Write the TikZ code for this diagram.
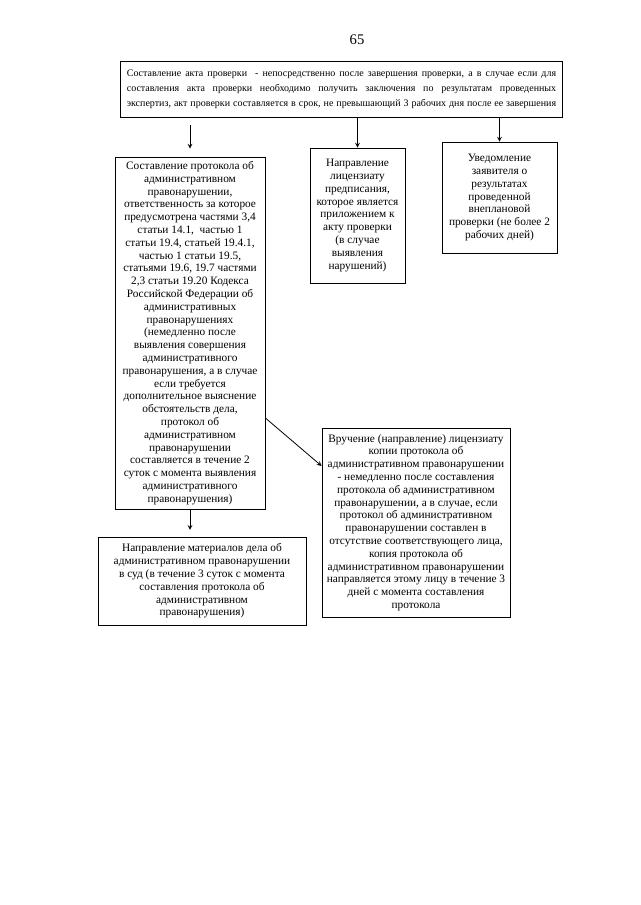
\documentclass[tikz,border=0pt]{standalone}
\usepackage{fontspec}
\setmainfont{Liberation Serif}
\begin{document}
\begin{tikzpicture}[x=0.75pt, y=-0.75pt, >=stealth, line width=0.6pt,
		box/.style={draw, align=center, inner sep=2pt, font=\fontsize{8.5}{9.6}\selectfont}]
	\useasboundingbox (0,0) rectangle (640,905);
	\node[font=\fontsize{11}{13}\selectfont] (num) at (357,40) {65};
	\node[box, align=justify, text width=322pt, minimum width=331pt, minimum height=42pt, font=\fontsize{7.5}{11.2}\selectfont] (top) at (341.5,89)
		{Составление акта проверки \ - непосредственно после завершения проверки, а в случае если для\linebreak
		 составления акта проверки необходимо получить заключения по результатам проведенных\linebreak
		 \makebox[\linewidth][s]{экспертиз, акт проверки составляется в срок, не превышающий 3 рабочих дня после ее завершения}};
	\node[box, minimum width=112.5pt, minimum height=264pt] (b4) at (190,333)
		{Составление протокола об\\административном\\правонарушении,\\ответственность за которое\\предусмотрена частями 3,4\\
		 статьи 14.1, \ частью 1\\статьи 19.4, статьей 19.4.1,\\частью 1 статьи 19.5,\\статьями 19.6, 19.7 частями\\
		 2,3 статьи 19.20 Кодекса\\Российской Федерации об\\административных\\правонарушениях\\(немедленно после\\
		 выявления совершения\\административного\\правонарушения, а в случае\\если требуется\\дополнительное выяснение\\
		 обстоятельств дела,\\протокол об\\административном\\правонарушении\\составляется в течение 2\\
		 суток с момента выявления\\административного\\правонарушения)};
	\node[box, minimum width=71.25pt, minimum height=101.25pt] (b2) at (357.5,215.5)
		{Направление\\лицензиату\\предписания,\\которое является\\приложением к\\акту проверки\\(в случае\\выявления\\нарушений)};
	\node[box, minimum width=86.25pt, minimum height=83.25pt] (b3) at (499.5,197.5)
		{Уведомление\\заявителя о\\результатах\\проведенной\\внеплановой\\проверки (не более 2\\рабочих дней)};
	\node[box, minimum width=156pt, minimum height=66pt] (b5) at (202,581)
		{Направление материалов дела об\\административном правонарушении\\в суд (в течение 3 суток с момента\\
		 составления протокола об\\административном\\правонарушения)};
	\node[box, minimum width=141pt, minimum height=141.75pt] (b6) at (416,522.5)
		{Вручение (направление) лицензиату\\копии протокола об\\административном правонарушении\\
		 - немедленно после составления\\протокола об административном\\правонарушении, а в случае, если\\
		 протокол об административном\\правонарушении составлен в\\отсутствие соответствующего лица,\\
		 копия протокола об\\административном правонарушении\\направляется этому лицу в течение 3\\
		 дней с момента составления\\протокола};
	% arrows
	\draw[->, shorten <=6pt, shorten >=6pt] (top.south -| b4.north) -- (b4.north);
	\foreach \b in {b2, b3} {
		\draw[->] (top.south -| \b.north) -- (\b.north);
	}
	\draw[->, shorten >=5pt] (b4.south) -- (b4.south |- b5.north);
	\draw[->] ([yshift=-63.75pt]b4.east) -- ([yshift=42.4pt]b6.west);
\end{tikzpicture}
\end{document}
